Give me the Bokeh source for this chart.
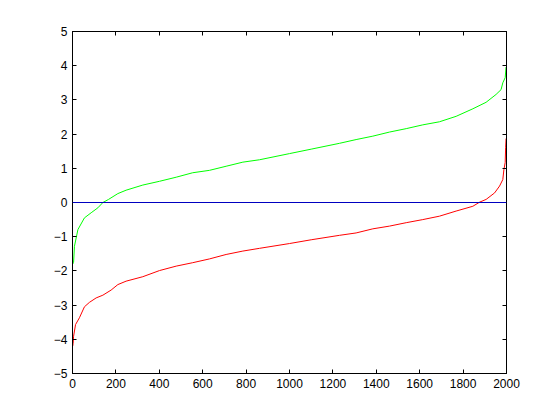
from bokeh.plotting import figure
from bokeh.models import LinearAxis, Span, FixedTicker, Range1d
from bokeh.embed import file_html
from bokeh.resources import INLINE

# Green series (sorted values, index vs value)
green_x = [1, 5, 9, 25, 55, 86, 117, 140, 166, 209, 247, 324, 401, 478, 554, 631,
           708, 785, 862, 1000, 1100, 1230, 1307, 1384, 1461, 1538, 1614, 1691,
           1768, 1845, 1906, 1952, 1975, 1983, 1994, 1998]
green_y = [-1.80, -1.75, -1.28, -0.79, -0.45, -0.30, -0.155, 0.0, 0.09, 0.26, 0.36,
           0.51, 0.62, 0.74, 0.87, 0.94, 1.06, 1.18, 1.25, 1.43, 1.56, 1.73, 1.84,
           1.94, 2.06, 2.16, 2.27, 2.36, 2.52, 2.74, 2.93, 3.16, 3.30, 3.50, 3.65, 3.96]

# Red series
red_x = [1, 3, 5, 14, 32, 55, 78, 109, 140, 178, 209, 247, 324, 401, 478, 554, 631,
         708, 785, 862, 1000, 1100, 1230, 1307, 1384, 1461, 1538, 1614, 1691, 1768,
         1845, 1876, 1906, 1945, 1968, 1983, 1988, 1994, 1996, 1998]
red_y = [-4.20, -4.12, -3.91, -3.57, -3.37, -3.05, -2.92, -2.79, -2.71, -2.56, -2.40,
         -2.30, -2.17, -1.99, -1.86, -1.76, -1.65, -1.52, -1.42, -1.34, -1.20, -1.09,
         -0.96, -0.89, -0.77, -0.69, -0.59, -0.50, -0.40, -0.25, -0.11, 0.01, 0.09,
         0.28, 0.48, 0.67, 0.96, 1.17, 1.60, 1.87]

x_ticks = [0, 200, 400, 600, 800, 1000, 1200, 1400, 1600, 1800, 2000]
y_ticks = [-5, -4, -3, -2, -1, 0, 1, 2, 3, 4, 5]

p = figure(width=551, height=411, output_backend="svg", toolbar_location=None,
           x_range=Range1d(0, 2000), y_range=Range1d(-5, 5))
p.min_border_left = 72
p.min_border_right = 45
p.min_border_top = 31
p.min_border_bottom = 38
p.background_fill_color = "white"
p.border_fill_color = "white"
p.outline_line_color = "black"
p.outline_line_width = 1
p.xgrid.visible = False
p.ygrid.visible = False

font = "Liberation Sans"
for ax in p.xaxis + p.yaxis:
    ax.major_tick_in = 4
    ax.major_tick_out = 0
    ax.minor_tick_in = 0
    ax.minor_tick_out = 0
    ax.major_label_text_font = font
    ax.major_label_text_font_size = "12px"
    ax.major_label_text_color = "black"
    ax.axis_line_color = "black"
    ax.major_tick_line_color = "black"
p.xaxis.ticker = FixedTicker(ticks=x_ticks)
p.yaxis.ticker = FixedTicker(ticks=y_ticks)
p.xaxis.major_label_standoff = 5
p.yaxis.major_label_standoff = 5

# top and right edges: ticks only (minor ticks carry no labels)
top = LinearAxis(ticker=FixedTicker(ticks=[], minor_ticks=x_ticks),
                 major_tick_in=0, major_tick_out=0, minor_tick_in=4, minor_tick_out=0,
                 minor_tick_line_color="black", axis_line_color="black")
right = LinearAxis(ticker=FixedTicker(ticks=[], minor_ticks=y_ticks),
                   major_tick_in=0, major_tick_out=0, minor_tick_in=4, minor_tick_out=0,
                   minor_tick_line_color="black", axis_line_color="black")
p.add_layout(top, "above")
p.add_layout(right, "right")

p.add_layout(Span(location=0, dimension="width", line_color="#0000c0", line_width=1))
p.line(green_x, green_y, line_color="#00ff00", line_width=1)
p.line(red_x, red_y, line_color="#ff0000", line_width=1)

open("out.html", "w").write(file_html(p, INLINE))
